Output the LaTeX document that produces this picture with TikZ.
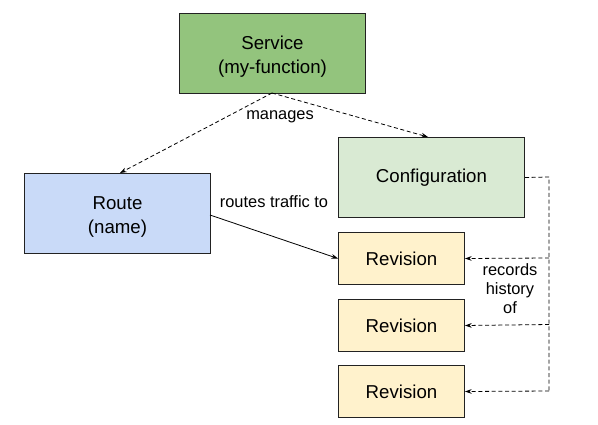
\documentclass[tikz,border=0pt]{standalone}
\usepackage{fontspec}
\setmainfont{Liberation Sans}
\usetikzlibrary{arrows.meta}
\definecolor{svcgreen}{HTML}{93C47D}
\definecolor{cfggreen}{HTML}{D9EAD3}
\definecolor{routeblue}{HTML}{C9DAF8}
\definecolor{revyellow}{HTML}{FFF2CC}
\definecolor{edge}{HTML}{222222}
\newcommand{\topstrut}{\rule{0pt}{14.5pt}}
\begin{document}
\begin{tikzpicture}[x=0.75pt,y=-0.75pt,
  box/.style={draw=edge,line width=0.75pt,anchor=north west,inner sep=0pt,font=\fontsize{14}{18}\selectfont,align=center},
  lbl/.style={font=\fontsize{12.3}{14.5}\selectfont,align=center,inner sep=0pt},
  conn/.style={line width=0.6pt,-{Stealth[length=5pt,width=3.5pt]}},
  dconn/.style={conn,dash pattern=on 3pt off 2pt}]
\useasboundingbox (0,0) rectangle (598,424);
\node[box,fill=svcgreen,minimum width=186*0.75pt,minimum height=80*0.75pt] (svc) at (179,13) {\topstrut Service\\(my-function)};
\node[box,fill=routeblue,minimum width=186*0.75pt,minimum height=80*0.75pt] (route) at (24,173) {\topstrut Route\\(name)};
\node[box,fill=cfggreen,minimum width=186*0.75pt,minimum height=80*0.75pt] (cfg) at (338,137) {Configuration};
\node[box,fill=revyellow,minimum width=126*0.75pt,minimum height=52*0.75pt] (rev1) at (338,232) {Revision};
\node[box,fill=revyellow,minimum width=126*0.75pt,minimum height=52*0.75pt] (rev2) at (338,299) {Revision};
\node[box,fill=revyellow,minimum width=126*0.75pt,minimum height=52*0.75pt] (rev3) at (338,365) {Revision};
\coordinate (svcb) at (272,93);
\coordinate (routet) at (120,173);
\coordinate (cfgt) at (428,137);
\draw[dconn] (svcb) -- (routet);
\draw[dconn] (svcb) -- (cfgt);
\node[lbl] (manages) at (280,117) {manages};
\coordinate (routeout) at (210,215);
\draw[conn] (routeout) -- (rev1.west);
\node[lbl] (routes) at (274,202) {routes traffic to};
\coordinate (bend) at (549,177);
\draw[dash pattern=on 3pt off 2pt,line width=0.6pt] (cfg.east) -- (bend) -- (549,391);
\draw[dconn] (549,258) -- (rev1.east);
\draw[dconn] (549,324.5) -- (rev2.east);
\draw[dconn] (549,391) -- (rev3.east);
\node[lbl,font=\fontsize{12.3}{14.25}\selectfont] (hist) at (510,289) {records\\history\\of};
\end{tikzpicture}
\end{document}
